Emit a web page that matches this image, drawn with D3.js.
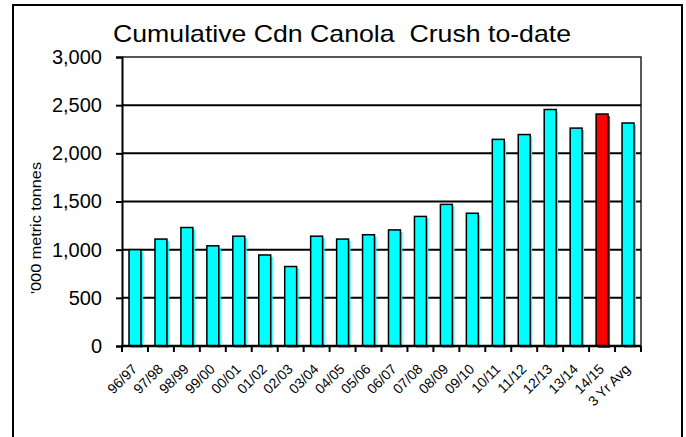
<!DOCTYPE html>
<html>
<head>
<meta charset="utf-8">
<script src="https://cdn.jsdelivr.net/npm/d3@7"></script>
<style>
  body { margin: 0; background: #fff; }
  text { font-family: "Liberation Sans", Arial, sans-serif; fill: #000; }
</style>
</head>
<body>
<div id="chart"></div>
<script>
// data
var seasons = ["96/97", "97/98", "98/99", "99/00", "00/01", "01/02", "02/03", "03/04",
               "04/05", "05/06", "06/07", "07/08", "08/09", "09/10", "10/11", "11/12",
               "12/13", "13/14", "14/15", "3 Yr Avg"];
var crush = [1000, 1110, 1230, 1040, 1140, 945, 825, 1140,
             1110, 1155, 1205, 1345, 1470, 1378, 2145, 2195,
             2455, 2262, 2408, 2315];
var highlight = ["14/15"];
var yTicks = [0, 500, 1000, 1500, 2000, 2500, 3000];

var W = 686, H = 437;
var margin = {top: 57, right: 45, bottom: 91, left: 122},
    width = W - margin.left - margin.right,
    height = H - margin.top - margin.bottom;

var data = seasons.map(function(s, i) { return {season: s, value: crush[i]}; });

var x = d3.scaleBand().domain(seasons).range([0, width]).padding(0);
var y = d3.scaleLinear().domain([0, 3000]).range([height, 0]);

var svg = d3.select("#chart").append("svg")
    .attr("width", W)
    .attr("height", H);

// outer frame
svg.append("rect")
    .attr("x", 13).attr("y", 5)
    .attr("width", 669).attr("height", 450)
    .attr("fill", "none")
    .attr("stroke", "#000")
    .attr("stroke-width", 2);

// title
svg.append("text")
    .attr("x", 113).attr("y", 42)
    .attr("font-size", 24)
    .attr("textLength", 458)
    .attr("lengthAdjust", "spacingAndGlyphs")
    .style("white-space", "pre")
    .text("Cumulative Cdn Canola  Crush to-date");

// y label
svg.append("text")
    .attr("transform", "translate(41,228) rotate(-90)")
    .attr("text-anchor", "middle")
    .attr("font-size", 14)
    .attr("textLength", 132)
    .attr("lengthAdjust", "spacingAndGlyphs")
    .text("'000 metric tonnes");

var g = svg.append("g")
    .attr("transform", "translate(" + margin.left + "," + margin.top + ")");

// plot border (top + right)
g.append("path")
    .attr("d", "M0,0H" + width + "V" + height)
    .attr("fill", "none")
    .attr("stroke", "#222")
    .attr("stroke-width", 1.5);

// gridlines
g.selectAll(".grid")
    .data(yTicks.filter(function(d) { return d > 0 && d < 3000; }))
  .enter().append("line")
    .attr("x1", 0).attr("x2", width)
    .attr("y1", function(d) { return y(d); })
    .attr("y2", function(d) { return y(d); })
    .attr("stroke", "#000")
    .attr("stroke-width", 2);

var bw = x.bandwidth() * 0.46,
    off = (x.bandwidth() - bw) / 2;

function barColor(d) { return highlight.indexOf(d.season) >= 0 ? "#ff0000" : "#00ffff"; }

// bar shadows
g.selectAll(".shadow")
    .data(data)
  .enter().append("rect")
    .attr("x", function(d) { return x(d.season) + off + 2; })
    .attr("y", function(d) { return y(d.value) + 2; })
    .attr("width", bw)
    .attr("height", function(d) { return height - y(d.value); })
    .attr("fill", barColor);

// bars
g.selectAll(".bar")
    .data(data)
  .enter().append("rect")
    .attr("x", function(d) { return x(d.season) + off; })
    .attr("y", function(d) { return y(d.value); })
    .attr("width", bw)
    .attr("height", function(d) { return height - y(d.value); })
    .attr("fill", barColor)
    .attr("stroke", "#000")
    .attr("stroke-width", 1.5);

// y axis
var yAxis = g.append("g")
    .call(d3.axisLeft(y).tickValues(yTicks).tickSize(6).tickPadding(14).tickFormat(d3.format(",")));
yAxis.selectAll("text").attr("font-size", 20).style("font-family", "Liberation Sans, Arial, sans-serif");
yAxis.selectAll("line, path").attr("stroke", "#000").attr("stroke-width", 2);

// x axis line and ticks at category boundaries
var xg = g.append("g").attr("transform", "translate(0," + height + ")");
xg.append("line")
    .attr("x1", -1).attr("x2", width)
    .attr("stroke", "#000").attr("stroke-width", 2.5);
xg.selectAll(".xtick")
    .data(seasons.map(function(s) { return x(s); }).concat([width]))
  .enter().append("line")
    .attr("x1", function(d) { return d; })
    .attr("x2", function(d) { return d; })
    .attr("y1", 0).attr("y2", 6)
    .attr("stroke", "#000").attr("stroke-width", 2);

// x labels
xg.selectAll(".xlab")
    .data(seasons)
  .enter().append("text")
    .attr("text-anchor", "end")
    .attr("font-size", 14)
    .attr("transform", function(d) {
      return "translate(" + (x(d) + x.bandwidth() / 2 + 3) + ",24) rotate(-45)";
    })
    .text(function(d) { return d; });
</script>
</body>
</html>
